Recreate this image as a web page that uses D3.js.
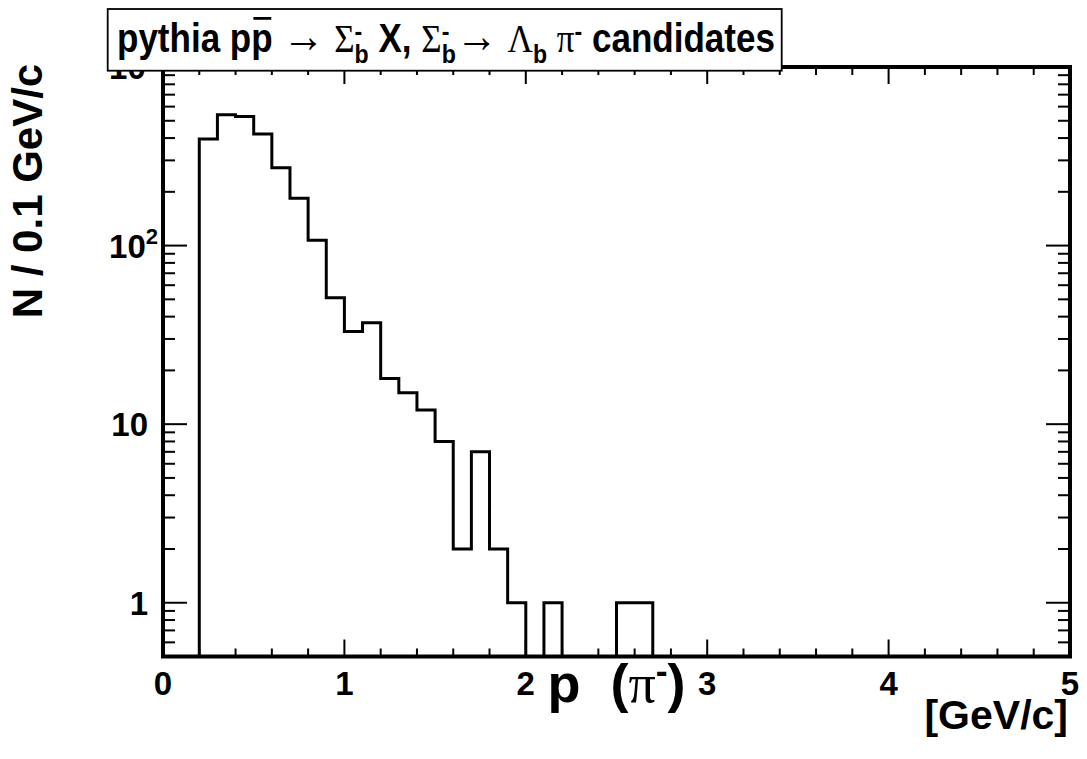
<!DOCTYPE html>
<html>
<head>
<meta charset="utf-8">
<script src="https://cdn.jsdelivr.net/npm/d3@7"></script>
<style>
  html, body { margin: 0; padding: 0; background: #fff; }
  svg { display: block; }
</style>
</head>
<body>
<svg id="chart" width="1087" height="759"></svg>
<script>
// Histogram of pi- momentum for Sigma_b- -> Lambda_b pi- candidates, 0.1 GeV/c bins
const binEdgesLow = [0.0,0.1,0.2,0.3,0.4,0.5,0.6,0.7,0.8,0.9,1.0,1.1,1.2,1.3,1.4,1.5,1.6,1.7,1.8,1.9,
                     2.0,2.1,2.2,2.3,2.4,2.5,2.6,2.7,2.8,2.9,3.0,3.1,3.2,3.3,3.4,3.5,3.6,3.7,3.8,3.9,
                     4.0,4.1,4.2,4.3,4.4,4.5,4.6,4.7,4.8,4.9];
const binWidth = 0.1;
const counts = [0,0,395,540,528,422,273,184,107,51,33,37,18,15,12,8,2,7,2,1,
                0,1,0,0,0,1,1,0,0,0,0,0,0,0,0,0,0,0,0,0,
                0,0,0,0,0,0,0,0,0,0];

const xTickValues = [0,1,2,3,4,5];
const xTickLabels = ["0","1","2","3","4","5"];
const yTickValues = [1,10,100,1000];
const yTickBase   = ["1","10","10","10"];
const yTickExp    = ["","","2","3"];

const xDomain = [0,5];
const yDomain = [0.5,1000];

const svg = d3.select("#chart");
const L = 163, R = 1070, T = 67, B = 656.5;

const x = d3.scaleLinear().domain(xDomain).range([L, R]);
const y = d3.scaleLog().domain(yDomain).range([B, T]);

const SANS = "Liberation Sans, Arial, Helvetica, sans-serif";
const SERIF = "Liberation Serif, Times New Roman, serif";

// clip for the histogram
svg.append("defs").append("clipPath").attr("id","frameClip")
  .append("rect").attr("x",L).attr("y",T).attr("width",R-L).attr("height",B-T);

// histogram outline
const pts = [];
binEdgesLow.forEach((lo,i)=>{
  const v = counts[i] > 0 ? counts[i] : yDomain[0];
  pts.push([lo, v]);
  pts.push([lo + binWidth, v]);
});
const line = d3.line().x(d=>x(d[0])).y(d=>y(d[1]));
svg.append("path")
  .attr("clip-path","url(#frameClip)")
  .attr("d", line(pts))
  .attr("fill","none").attr("stroke","#000").attr("stroke-width",3)
  .attr("stroke-linejoin","miter");

// ticks
const tickG = svg.append("g").attr("stroke","#000").attr("stroke-width",2);
const xMinor = d3.range(0, 5.0001, 0.2);
xMinor.forEach(v=>{
  const major = Math.abs(v - Math.round(v)) < 1e-6;
  const len = major ? 17 : 8;
  tickG.append("line").attr("x1",x(v)).attr("x2",x(v)).attr("y1",B).attr("y2",B-len);
  tickG.append("line").attr("x1",x(v)).attr("x2",x(v)).attr("y1",T).attr("y2",T+len);
});
const yMinor = [];
[0.1,1,10,100].forEach(dec=>{ for(let k=1;k<=9;k++){ const v=k*dec; if(v>=yDomain[0]&&v<=yDomain[1]) yMinor.push(v);} });
yMinor.push(1000);
yMinor.forEach(v=>{
  const major = yTickValues.includes(v);
  const len = major ? 24 : 12;
  tickG.append("line").attr("x1",L).attr("x2",L+len).attr("y1",y(v)).attr("y2",y(v));
  tickG.append("line").attr("x1",R).attr("x2",R-len).attr("y1",y(v)).attr("y2",y(v));
});

// frame
svg.append("rect").attr("x",L).attr("y",T).attr("width",R-L).attr("height",B-T)
  .attr("fill","none").attr("stroke","#000").attr("stroke-width",4);

// x tick labels
svg.append("g").selectAll("text").data(xTickValues).join("text")
  .attr("x",d=>x(d)).attr("y",695)
  .attr("text-anchor","middle")
  .attr("font-family",SANS).attr("font-weight","bold").attr("font-size",33)
  .text((d,i)=>xTickLabels[i]);

// y tick labels
yTickValues.forEach((v,i)=>{
  const t = svg.append("text")
    .attr("x", yTickExp[i] ? 158 : 148)
    .attr("y", y(v) + 12)
    .attr("text-anchor","end")
    .attr("font-family",SANS).attr("font-weight","bold").attr("font-size",33);
  t.append("tspan").text(yTickBase[i]);
  if (yTickExp[i]) t.append("tspan").attr("font-size",22).attr("dy",-14).text(yTickExp[i]);
});

// y axis title
svg.append("text")
  .attr("transform","translate(42,191) rotate(-90)")
  .attr("text-anchor","middle")
  .attr("font-family",SANS).attr("font-weight","bold").attr("font-size",42)
  .text("N / 0.1 GeV/c");

// rich text layout: pieces laid out left to right, with optional stacked sub/superscripts
function layout(g, pieces, size) {
  let cx = 0;
  const marks = [];
  pieces.forEach(p=>{
    if (p.stack) {
      let w = 0;
      p.stack.forEach(s=>{
        const t = g.append("text").attr("x",cx).attr("y",s.dy*size)
          .attr("font-family",s.serif?SERIF:SANS).attr("font-weight",s.serif?"normal":"bold")
          .attr("font-size",size*s.scale).attr("xml:space","preserve").text(s.text);
        w = Math.max(w, t.node().getComputedTextLength());
      });
      cx += w;
    } else {
      const t = g.append("text").attr("x",cx).attr("y",(p.dy||0)*size)
        .attr("font-family",p.serif?SERIF:SANS).attr("font-weight",p.serif?"normal":"bold")
        .attr("font-size",size*(p.scale||1)).attr("xml:space","preserve").text(p.text);
      const w = t.node().getComputedTextLength();
      if (p.overline) marks.push([cx+size*0.06, cx+w-size*0.04]);
      cx += w;
    }
  });
  marks.forEach(m=>{
    g.append("line").attr("x1",m[0]).attr("x2",m[1])
      .attr("y1",-size*0.84).attr("y2",-size*0.84)
      .attr("stroke","#000").attr("stroke-width",size*0.07);
  });
  return cx;
}

// title box
const boxX = 107.7, boxW = 674;
svg.append("rect").attr("x",boxX).attr("y",9).attr("width",boxW).attr("height",61.7)
  .attr("fill","#fff").attr("stroke","#000").attr("stroke-width",1.8);
const titleSize = 40;
const titleG = svg.append("g");
const sb = [{text:"b",scale:0.66,dy:0.27},{text:"-",scale:0.66,dy:-0.3}];
const titleW = layout(titleG, [
  {text:"pythia p"},
  {text:"p", overline:true},
  {text:" "},
  {text:"\u2192", serif:true, scale:1.2},
  {text:" "},
  {text:"\u03A3", serif:true},
  {stack:sb},
  {text:" X, "},
  {text:"\u03A3", serif:true},
  {stack:sb},
  {text:"\u2192", serif:true, scale:1.2},
  {text:" "},
  {text:"\u039B", serif:true},
  {text:"b", scale:0.66, dy:0.27},
  {text:" "},
  {text:"\u03C0", serif:true},
  {text:"-", scale:0.66, dy:-0.3},
  {text:" candidates"}
], titleSize);
// squeeze horizontally so the title fits inside its box
const titleFit = Math.min(1, 658 / titleW);
titleG.attr("transform",`translate(${446 - titleW*titleFit/2},52) scale(${titleFit},1)`);

// x axis title
const xtG = svg.append("g");
const xtSize = 54;
const xtW = layout(xtG, [
  {text:"p  ("},
  {text:"\u03C0", serif:true},
  {text:"-", scale:0.66, dy:-0.36},
  {text:")"}
], xtSize);
xtG.attr("transform",`translate(${(L+R)/2 - xtW/2},702)`);

svg.append("text").attr("x",1068).attr("y",729).attr("text-anchor","end")
  .attr("font-family",SANS).attr("font-weight","bold").attr("font-size",41)
  .text("[GeV/c]");
</script>
</body>
</html>
